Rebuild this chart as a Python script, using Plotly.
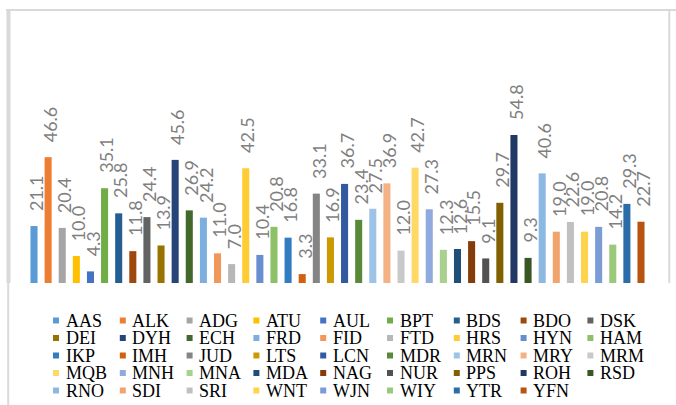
import colorsys
import plotly.graph_objects as go

categories = ["AAS", "ALK", "ADG", "ATU", "AUL", "BPT", "BDS", "BDO", "DSK",
              "DEI", "DYH", "ECH", "FRD", "FID", "FTD", "HRS", "HYN", "HAM",
              "IKP", "IMH", "JUD", "LTS", "LCN", "MDR", "MRN", "MRY", "MRM",
              "MQB", "MNH", "MNA", "MDA", "NAG", "NUR", "PPS", "ROH", "RSD",
              "RNO", "SDI", "SRI", "WNT", "WJN", "WIY", "YTR", "YFN"]
values = [21.1, 46.6, 20.4, 10.0, 4.3, 35.1, 25.8, 11.8, 24.4,
          13.9, 45.6, 26.9, 24.2, 11.0, 7.0, 42.5, 10.4, 20.8,
          16.8, 3.3, 33.1, 16.9, 36.7, 23.4, 27.5, 36.9, 12.0,
          42.7, 27.3, 12.3, 12.6, 15.5, 9.1, 29.7, 54.8, 9.3,
          40.6, 19.0, 22.6, 19.0, 20.8, 14.2, 29.3, 22.7]
labels = [f"{v:.1f}" for v in values]

# Office theme accent colours and the luminance variants Excel cycles through
accents = ["#5B9BD5", "#ED7D31", "#A5A5A5", "#FFC000", "#4472C4", "#70AD47"]
variants = [(1.0, 0.0), (0.6, 0.0), (0.8, 0.2), (0.8, 0.0),
            (0.6, 0.4), (0.5, 0.0), (0.7, 0.3), (0.7, 0.0)]


def lum(hexc, mod, off):
    r, g, b = (int(hexc[i:i + 2], 16) / 255 for i in (1, 3, 5))
    h, l, s = colorsys.rgb_to_hls(r, g, b)
    l = min(1.0, l * mod + off)
    r, g, b = colorsys.hls_to_rgb(h, l, s)
    return "#%02X%02X%02X" % (round(r * 255), round(g * 255), round(b * 255))


colors = [lum(accents[i % 6], *variants[i // 6]) for i in range(len(categories))]

W, H = 676, 405
ML, MR, MT, MB = 23, 20, 67, 122
PW, PH = W - ML - MR, H - MT - MB


def px(x):
    return (x - ML) / PW


def py(y):
    return (H - MB - y) / PH


fig = go.Figure()
for name, val, col in zip(categories, values, colors):
    fig.add_trace(go.Bar(x=[name], y=[val], name=name, marker_color=col,
                         marker_line_width=0, width=0.5, showlegend=False,
                         hoverinfo="name+y"))

annotations = []
for name, val, lab in zip(categories, values, labels):
    annotations.append(dict(x=name, y=val, xref="x", yref="y", text=lab,
                            textangle=-90, showarrow=False, yanchor="bottom",
                            xanchor="center", yshift=13, xshift=2,
                            font=dict(family="Lato", size=18, color="#7F7F7F")))

shapes = []
# custom legend: 9 columns x 5 rows
for i, (name, col) in enumerate(zip(categories, colors)):
    c, r = i % 9, i // 9
    sx = 53 + c * 66.8
    sy = 320.5 + r * 17.5
    shapes.append(dict(type="rect", xref="paper", yref="paper",
                       x0=px(sx), x1=px(sx + 6), y0=py(sy + 3), y1=py(sy - 3),
                       fillcolor=col, line_width=0))
    annotations.append(dict(x=px(sx + 11.5), y=py(sy), xref="paper", yref="paper",
                            text=name, showarrow=False, xanchor="left",
                            yanchor="middle", borderpad=0,
                            font=dict(family="Liberation Serif", size=18,
                                      color="#000000")))

# chart frame lines
frame = "#D9D9D9"
shapes += [
    dict(type="line", xref="paper", yref="paper", x0=px(6), x1=px(676),
         y0=py(10), y1=py(10), line=dict(color=frame, width=2)),
    dict(type="line", xref="paper", yref="paper", x0=px(8.5), x1=px(8.5),
         y0=py(9), y1=py(283), line=dict(color=frame, width=4)),
    dict(type="line", xref="paper", yref="paper", x0=px(8.2), x1=px(8.2),
         y0=py(283), y1=py(405), line=dict(color=frame, width=2)),
    dict(type="line", xref="paper", yref="paper", x0=px(669.3), x1=px(669.3),
         y0=py(10), y1=py(283), line=dict(color=frame, width=2)),
]

fig.update_layout(
    width=W, height=H,
    margin=dict(l=ML, r=MR, t=MT, b=MB, pad=0),
    paper_bgcolor="white", plot_bgcolor="white",
    barmode="overlay",
    showlegend=False,
    xaxis=dict(type="category", categoryorder="array", categoryarray=categories,
               showticklabels=False, showgrid=False, zeroline=False,
               showline=False, ticks=""),
    yaxis=dict(range=[0, 80], showticklabels=False, showgrid=False,
               zeroline=False, showline=False, ticks=""),
    annotations=annotations,
    shapes=shapes,
)

fig.write_html("out.html",
               config={"displayModeBar": False},
               post_script="document.body.style.margin='0';"
                           "document.body.style.overflow='hidden';")
